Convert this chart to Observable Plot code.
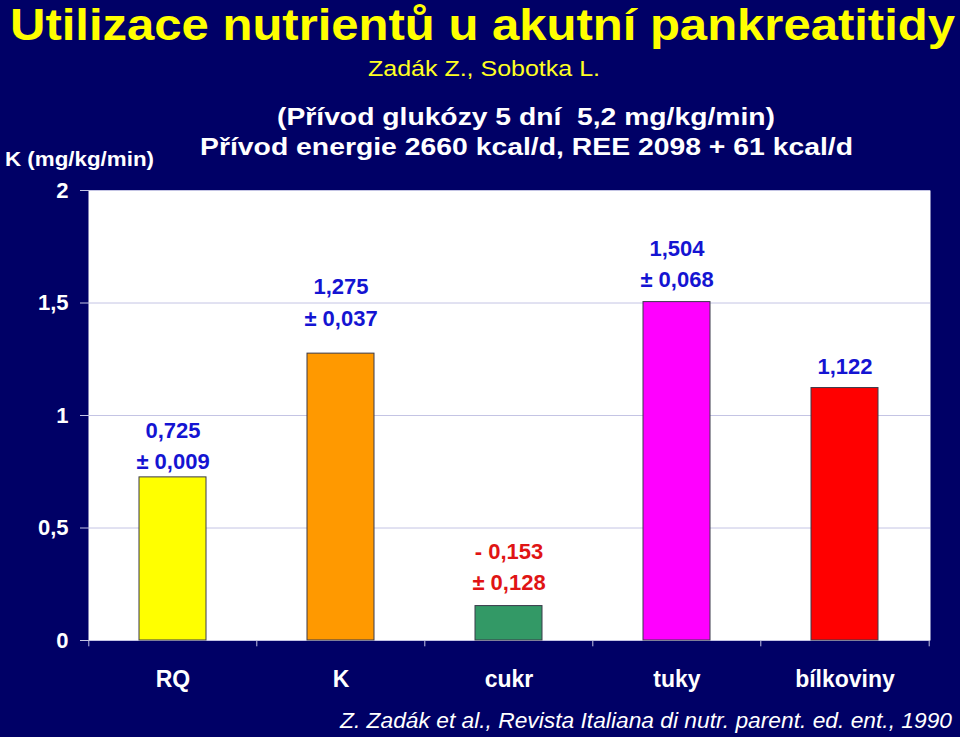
<!DOCTYPE html>
<html>
<head>
<meta charset="utf-8">
<script src="https://cdn.jsdelivr.net/npm/d3@7"></script>
<script src="https://cdn.jsdelivr.net/npm/@observablehq/plot@0.6"></script>
<style>
  html, body { margin: 0; padding: 0; background: #000066; }
  #page { position: relative; width: 960px; height: 737px; overflow: hidden; background: #000066; font-family: "Liberation Sans", Arial, sans-serif; }
  .txt { position: absolute; white-space: pre; line-height: 1; transform-origin: 0 0; }
  #chart { position: absolute; left: 0; top: 170px; }
</style>
</head>
<body>
<div id="page">
  <div id="chart"></div>
</div>
<script>
// ---- data ----
const categories = ["RQ", "K", "cukr", "tuky", "bílkoviny"];
const values = [0.725, 1.275, 0.153, 1.504, 1.122];
const valueLabels = ["0,725\n± 0,009", "1,275\n± 0,037", "- 0,153\n± 0,128", "1,504\n± 0,068", "1,122"];
const barColors = ["#ffff00", "#ff9900", "#339966", "#ff00ff", "#ff0000"];
const labelColors = ["#1414d2", "#1414d2", "#e01414", "#1414d2", "#1414d2"];
const yTicks = [0, 0.5, 1, 1.5, 2];

const titleText = "Utilizace nutrientů u akutní pankreatitidy";
const authorsText = "Zadák Z., Sobotka L.";
const infoLine1 = "(Přívod glukózy 5 dní  5,2 mg/kg/min)";
const infoLine2 = "Přívod energie 2660 kcal/d, REE 2098 + 61 kcal/d";
const yLabel = "K (mg/kg/min)";
const captionText = "Z. Zadák et al., Revista Italiana di nutr. parent. ed. ent., 1990";

const data = categories.map((c, i) => ({
  cat: c, value: values[i], label: valueLabels[i], color: barColors[i], labelColor: labelColors[i]
}));

// ---- texts around the chart ----
const page = document.getElementById("page");
function placeText(text, {left, right, baseline, fs, weight = "bold", italic = false, color = "white", family = '"Liberation Sans", Arial, sans-serif'}) {
  const el = document.createElement("div");
  el.className = "txt";
  el.textContent = text;
  el.style.fontSize = fs + "px";
  el.style.fontWeight = weight;
  el.style.fontStyle = italic ? "italic" : "normal";
  el.style.color = color;
  el.style.fontFamily = family;
  page.appendChild(el);
  const w = el.getBoundingClientRect().width;
  const target = right - left;
  el.style.left = left + "px";
  el.style.top = (baseline - 0.8465 * fs) + "px";
  el.style.transform = `scaleX(${target / w})`;
  return el;
}
placeText(titleText, {left: 10, right: 955, baseline: 40, fs: 44, color: "#ffff00"});
placeText(authorsText, {left: 368, right: 600, baseline: 77, fs: 22, weight: "normal", color: "#ffff22"});
placeText(infoLine1, {left: 277, right: 775, baseline: 125, fs: 24});
placeText(infoLine2, {left: 200, right: 853, baseline: 155, fs: 24});
placeText(yLabel, {left: 5, right: 154, baseline: 166, fs: 21});
placeText(captionText, {left: 340, right: 952, baseline: 729, fs: 22, weight: "normal", italic: true});

// ---- chart ----
const W = 960, H = 530, ML = 88, MR = 30, MT = 20, MB = 60;
const step = (W - ML - MR) / categories.length;
const gridColor = "#c4c4e4";
const font = '"Liberation Sans", Arial, sans-serif';
// per-label gap above the bar top (as placed in the reference)
const labelGap = [8, 28, 16, 15, 14];

const chart = Plot.plot({
  width: W,
  height: H,
  marginLeft: ML,
  marginRight: MR,
  marginTop: MT,
  marginBottom: MB,
  style: {background: "transparent", fontFamily: font, color: "white", overflow: "visible"},
  x: {domain: categories, paddingInner: 0.6, paddingOuter: 0.3, label: null},
  y: {domain: [0, 2], label: null},
  color: {type: "identity"},
  marks: [
    Plot.frame({fill: "white", stroke: "none"}),
    Plot.ruleY(yTicks, {stroke: gridColor, strokeWidth: 1}),
    Plot.ruleX(categories, {x: d => d, dx: -step / 2, y1: 0, y2: -0.028, stroke: gridColor}),
    Plot.ruleX([categories[categories.length - 1]], {x: d => d, dx: step / 2, y1: 0, y2: -0.028, stroke: gridColor}),
    Plot.barY(data, {x: "cat", y: "value", fill: "color", stroke: "#3a3a4a", strokeWidth: 1}),
    ...data.map((d, i) => Plot.text([d], {
      x: "cat", y: "value", text: "label", fill: "labelColor",
      lineAnchor: "bottom", lineHeight: 1.42, dy: -labelGap[i],
      fontSize: 22, fontWeight: "bold", fontFamily: font
    })),
    Plot.axisY({ticks: yTicks, tickSize: 8, tickPadding: 12, stroke: gridColor, fill: "white",
      fontSize: 22, fontWeight: "bold", tickFormat: d => String(d).replace(".", ","), label: null}),
    Plot.axisX({tickSize: 0, tickPadding: 30, fill: "white", fontSize: 23, fontWeight: "bold", label: null})
  ]
});
document.getElementById("chart").appendChild(chart);
</script>
</body>
</html>
